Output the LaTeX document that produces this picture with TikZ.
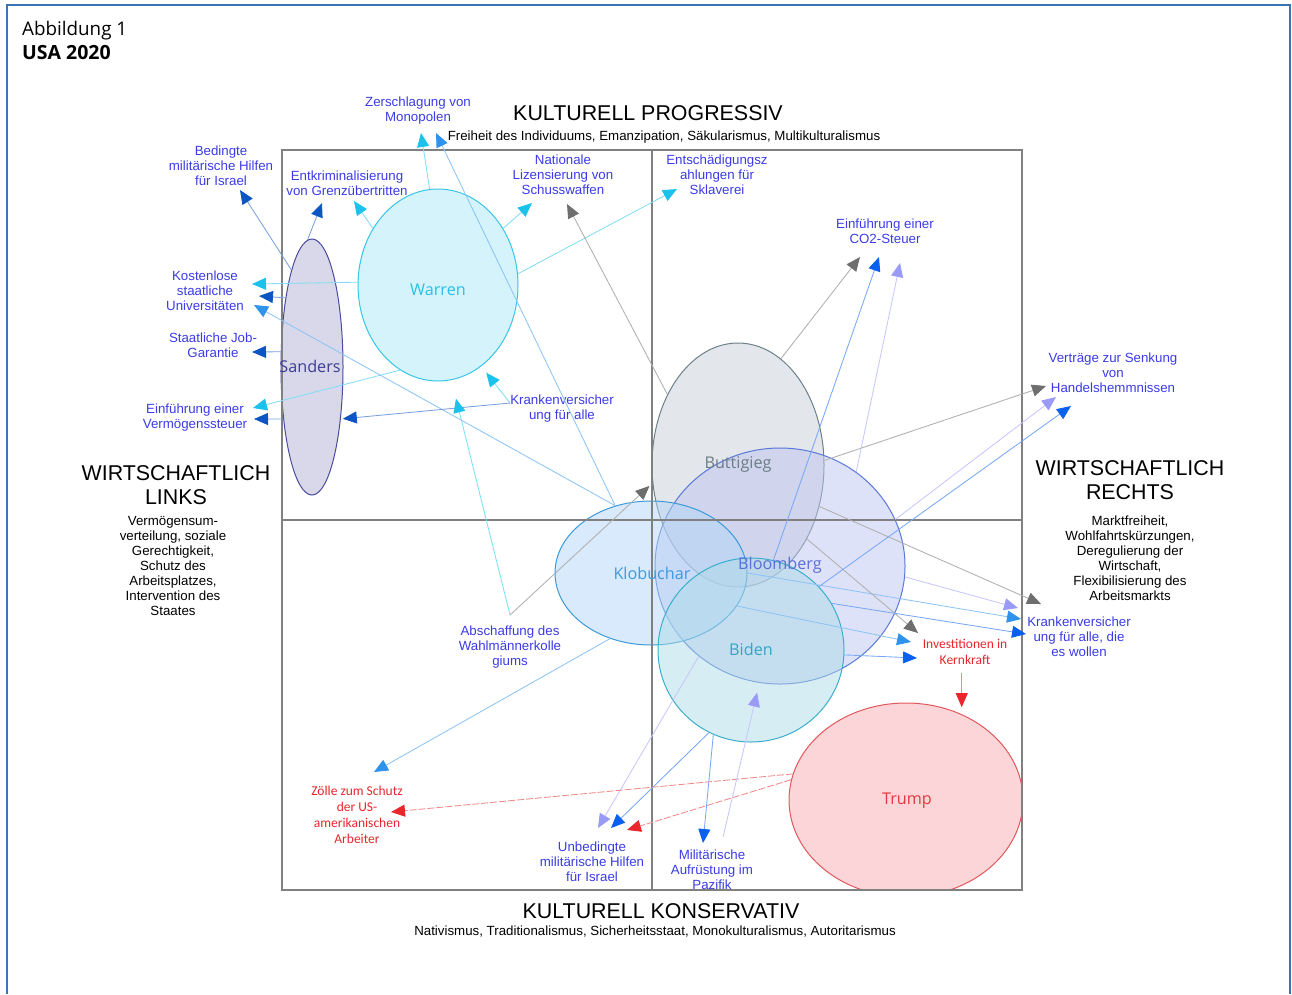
\documentclass[tikz,border=0pt]{standalone}
\usepackage{fontspec}
\setmainfont{Liberation Sans}
\newfontfamily\namefont{Open Sans}
\newfontfamily\redfont{Carlito}
\usetikzlibrary{arrows.meta,shapes.geometric}

\definecolor{frameblue}{HTML}{3A74B5}
\definecolor{boxgray}{HTML}{808080}
\definecolor{lblblue}{HTML}{3B3BE8}
\definecolor{lblred}{HTML}{E8262B}
% arrow colours per candidate
\definecolor{cWarren}{HTML}{1CC2EC}
\definecolor{cSanders}{HTML}{0D55C2}
\definecolor{cKlob}{HTML}{2F93EC}
\definecolor{cButt}{HTML}{6E6E6E}
\definecolor{cBloom}{HTML}{9A9AF8}
\definecolor{cBiden}{HTML}{0A60EE}
\definecolor{cTrump}{HTML}{E8262B}
% ellipse fills, strokes and names
\definecolor{sandersfill}{HTML}{D8D8EA}
\definecolor{sandersline}{HTML}{4B4B9B}
\definecolor{sanderstext}{HTML}{3D3D96}
\definecolor{warrenfill}{HTML}{D5F3FB}
\definecolor{warrenline}{HTML}{38C6E8}
\definecolor{warrentext}{HTML}{2BBFE6}
\definecolor{buttfill}{HTML}{C7CDD5}
\definecolor{buttline}{HTML}{6E8088}
\definecolor{butttext}{HTML}{6C7E86}
\definecolor{bloomfill}{HTML}{BDC5F1}
\definecolor{bloomline}{HTML}{5A78D8}
\definecolor{bloomtext}{HTML}{5A6FD8}
\definecolor{klobfill}{HTML}{B1D5F7}
\definecolor{klobline}{HTML}{3C9AD8}
\definecolor{klobtext}{HTML}{3C9AE2}
\definecolor{bidenfill}{HTML}{ADDBE7}
\definecolor{bidenline}{HTML}{3BAECB}
\definecolor{bidentext}{HTML}{35A4C6}
\definecolor{trumpfill}{HTML}{FBD5D7}
\definecolor{trumpline}{HTML}{E0585D}
\definecolor{trumptext}{HTML}{E03A40}

\begin{document}
\begin{tikzpicture}[x=1pt,y=-1pt,
  lbl/.style={text=lblblue, font=\fontsize{13.3}{15}\selectfont, align=center, inner sep=0pt},
  redlbl/.style={text=lblred, font=\redfont\fontsize{13.5}{16}\selectfont, align=center, inner sep=0pt},
  axtitle/.style={font=\fontsize{21.4}{24}\selectfont, align=center, inner sep=0pt},
  axsub/.style={font=\fontsize{13.3}{15}\selectfont, align=center, inner sep=0pt},
  cand/.style={ellipse, inner sep=0pt, line width=1pt},
  soft/.style={fill opacity=0.5},
  candname/.style={font=\namefont\fontsize{16.2}{19}\selectfont, inner sep=0pt},
  conn/.style={line width=0.85pt, draw=#1!55!white,
    -{Triangle[length=14pt,width=12pt,color=#1]}},
  redconn/.style={conn=cTrump, dash pattern=on 7pt off 2pt},
]
\useasboundingbox (0,0) rectangle (1292,994);

% outer frame
\draw[frameblue, line width=1.5pt] (7,994) -- (7,5) -- (1290,5) -- (1290,994);

% heading
\node[anchor=base west, font=\namefont\fontsize{18.8}{22}\selectfont, inner sep=0pt] (fig) at (22,35) {Abbildung 1};
\node[anchor=base west, font=\namefont\bfseries\fontsize{19.5}{22}\selectfont, inner sep=0pt] (usa) at (22,59) {USA 2020};

% candidate ellipses
\node[cand, minimum width=160pt, minimum height=192pt, fill=warrenfill, draw=warrenline] (warren) at (438,285) {};
\node[cand, minimum width=62pt, minimum height=256pt, fill=sandersfill, draw=sandersline] (sanders) at (312,367) {};
\node[cand, soft, minimum width=172pt, minimum height=244pt, fill=buttfill, draw=buttline] (buttigieg) at (738,465) {};
\node[cand, soft, minimum width=250pt, minimum height=236pt, fill=bloomfill, draw=bloomline] (bloomberg) at (780,566) {};
\node[cand, soft, minimum width=192pt, minimum height=144pt, fill=klobfill, draw=klobline] (klobuchar) at (651,573) {};
\node[cand, soft, minimum width=186pt, minimum height=184pt, fill=bidenfill, draw=bidenline] (biden) at (751,650) {};
\begin{scope}
  \clip (282,150) rectangle (1022,890);
  \node[cand, minimum width=234pt, minimum height=194pt, fill=trumpfill, draw=trumpline] (trump) at (906,800) {};
\end{scope}

% quadrant frame
\draw[boxgray, line width=1.2pt] (282,150) rectangle (1022,890);
\draw[boxgray, line width=1.2pt] (652,150) -- (652,890);
\draw[boxgray, line width=1.2pt] (282,520) -- (1022,520);

% candidate names
\node[candname, text=warrentext] (n-warren) at (438,290) {Warren};
\node[candname, text=sanderstext] (n-sanders) at (310,366) {Sanders};
\node[candname, text=butttext] (n-butt) at (738,464) {Buttigieg};
\node[candname, text=bloomtext] (n-bloom) at (780,565) {Bloomberg};
\node[candname, text=klobtext] (n-klob) at (652,573) {Klobuchar};
\node[candname, text=bidentext] (n-biden) at (751,649) {Biden};
\node[candname, text=trumptext] (n-trump) at (907,801) {Trump};

% axis captions
\node[axtitle] (prog) at (648,113) {KULTURELL PROGRESSIV};
\node[axsub] (prog-sub) at (664,137) {Freiheit des Individuums, Emanzipation, Säkularismus, Multikulturalismus};
\node[axtitle] (kons) at (661,911) {KULTURELL KONSERVATIV};
\node[axsub] (kons-sub) at (655,932) {Nativismus, Traditionalismus, Sicherheitsstaat, Monokulturalismus, Autoritarismus};
\node[axtitle] (links) at (176,485) {WIRTSCHAFTLICH\\LINKS};
\node[axsub] (links-sub) at (173,566) {Vermögensum-\\verteilung, soziale\\Gerechtigkeit,\\Schutz des\\Arbeitsplatzes,\\Intervention des\\Staates};
\node[axtitle] (rechts) at (1130,480) {WIRTSCHAFTLICH\\RECHTS};
\node[axsub] (rechts-sub) at (1130,558) {Marktfreiheit,\\Wohlfahrtskürzungen,\\Deregulierung der\\Wirtschaft,\\Flexibilisierung des\\Arbeitsmarkts};

% policy labels
\node[lbl] (zersch) at (418,111) {Zerschlagung von\\Monopolen};
\node[lbl] (bedingt) at (221,166) {Bedingte\\militärische Hilfen\\für Israel};
\node[lbl] (entkrim) at (347,183) {Entkriminalisierung\\von Grenzübertritten};
\node[lbl] (waffen) at (563,175) {Nationale\\Lizensierung von\\Schusswaffen};
\node[lbl] (sklaverei) at (717,175) {Entschädigungsz\\ahlungen für\\Sklaverei};
\node[lbl] (co2) at (885,231) {Einführung einer\\CO2-Steuer};
\node[lbl] (uni) at (205,291) {Kostenlose\\staatliche\\Universitäten};
\node[lbl] (jobs) at (213,345) {Staatliche Job-\\Garantie};
\node[lbl] (vermoegen) at (195,418) {Einführung einer\\Vermögenssteuer};
\node[lbl] (kvall) at (562,409) {Krankenversicher\\ung für alle};
\node[lbl] (handel) at (1113,373) {Verträge zur Senkung\\von\\Handelshemmnissen};
\node[lbl] (kvwollen) at (1079,637) {Krankenversicher\\ung für alle, die\\es wollen};
\node[redlbl] (kernkraft) at (965,652) {Investitionen in\\Kernkraft};
\node[lbl] (wahl) at (510,647) {Abschaffung des\\Wahlmännerkolle\\giums};
\node[redlbl] (zoelle) at (357,815) {Zölle zum Schutz\\der US-\\amerikanischen\\Arbeiter};
\node[lbl] (unbed) at (592,862) {Unbedingte\\militärische Hilfen\\für Israel};
\node[lbl] (pazifik) at (712,870) {Militärische\\Aufrüstung im\\Pazifik};

% arrow tips beside the labels
\coordinate (t-zersch1) at (421,133);
\coordinate (t-zersch2) at (436,133);
\coordinate (t-entkrim1) at (354,201);
\coordinate (t-entkrim2) at (322,203);
\coordinate (t-waffen1) at (532,203);
\coordinate (t-waffen2) at (567,204);
\coordinate (t-sklav) at (677,189);
\coordinate (t-bedingt) at (240,190);
\coordinate (t-uni1) at (252,284);
\coordinate (t-uni2) at (259,296);
\coordinate (t-uni3) at (254,305);
\coordinate (t-jobs) at (252,352);
\coordinate (t-verm1) at (253,408);
\coordinate (t-verm2) at (254,419);
\coordinate (t-co2a) at (860,257);
\coordinate (t-co2b) at (879,257);
\coordinate (t-co2c) at (900,263);
\coordinate (t-handel1) at (1046,386);
\coordinate (t-handel2) at (1056,397);
\coordinate (t-handel3) at (1071,406);
\coordinate (t-kvw0) at (1041,604);
\coordinate (t-kvw1) at (1018,608);
\coordinate (t-kvw2) at (1021,619);
\coordinate (t-kvw3) at (1026,634);
\coordinate (t-kern1) at (918,633);
\coordinate (t-kern2) at (911,642);
\coordinate (t-kern3) at (917,658);
\coordinate (t-zoelle1) at (374,772);
\coordinate (t-zoelle2) at (391,812);
\coordinate (t-unbed1) at (598,828);
\coordinate (t-unbed2) at (611,828);
\coordinate (t-unbed3) at (627,830);
\coordinate (t-pazifik) at (703,843);
% free ends at labels that point back at candidates
\coordinate (kv-src) at ([yshift=6pt]kvall.west);
\coordinate (wahl-src) at (510,615);
\coordinate (pazifik-src) at (723,837);

% Warren
\draw[conn=cWarren] (warren.95) -- (t-zersch1);
\draw[conn=cWarren] (warren.139) -- (t-entkrim1);
\draw[conn=cWarren] (warren.41) -- (t-waffen1);
\draw[conn=cWarren] (warren.8) -- (t-sklav);
\draw[conn=cWarren] (warren.178) -- (t-uni1);
\draw[conn=cWarren] (warren.246) -- (t-verm1);

% Sanders
\draw[conn=cSanders] (sanders.92) -- (t-entkrim2);
\draw[conn=cSanders] (sanders.102) -- (t-bedingt);
\draw[conn=cSanders] (sanders.111) -- (t-uni2);
\draw[conn=cSanders] (sanders.154) -- (t-jobs);
\draw[conn=cSanders] (sanders.241) -- (t-verm2);

% Klobuchar
\draw[conn=cKlob] (klobuchar.118) -- (t-zersch2);
\draw[conn=cKlob] (klobuchar.118) -- (t-uni3);
\draw[conn=cKlob] (klobuchar.238) -- (t-zoelle1);
\draw[conn=cKlob] (klobuchar.0) -- (t-kvw2);
\draw[conn=cKlob] (klobuchar.339) -- (t-kern2);

% Buttigieg
\draw[conn=cButt] (buttigieg.135) -- (t-waffen2);
\draw[conn=cButt] (buttigieg.68) -- (t-co2a);
\draw[conn=cButt] (buttigieg.3) -- (t-handel1);
\draw[conn=cButt] (buttigieg.333) -- (t-kvw0);
\draw[conn=cButt] (buttigieg.313) -- (t-kern1);

% Bloomberg
\draw[conn=cBloom] (bloomberg.51) -- (t-co2c);
\draw[conn=cBloom] (bloomberg.22) -- (t-handel2);
\draw[conn=cBloom] (bloomberg.355) -- (t-kvw1);
\draw[conn=cBloom] (bloomberg.228) -- (t-unbed1);

% Biden
\draw[conn=cBiden] (biden.76) -- (t-co2b);
\draw[conn=cBiden] (biden.43) -- (t-handel3);
\draw[conn=cBiden] (biden.30) -- (t-kvw3);
\draw[conn=cBiden] (biden.357) -- (t-kern3);
\draw[conn=cBiden] (biden.243) -- (t-unbed2);
\draw[conn=cBiden] (biden.246) -- (t-pazifik);

% Trump
\draw[redconn] (trump.167) -- (t-zoelle2);
\draw[redconn] (trump.170) -- (t-unbed3);

% arrows from labels to candidates
\draw[conn=cWarren, shorten >=8pt] (kv-src) -- (warren.298);
\draw[conn=cSanders, shorten >=2pt] (kv-src) -- (sanders.299);
\draw[conn=cWarren, shorten >=19pt] (wahl-src) -- (warren.278.5);
\draw[conn=cButt, shorten >=4pt] (wahl-src) -- (buttigieg.192);
\draw[conn=cBloom, shorten >=10pt] (pazifik-src) -- (bloomberg.260);
\draw[conn=cTrump, shorten >=7pt] ([yshift=-8pt]kernkraft.south -| trump.57) -- (trump.57);

\end{tikzpicture}
\end{document}
